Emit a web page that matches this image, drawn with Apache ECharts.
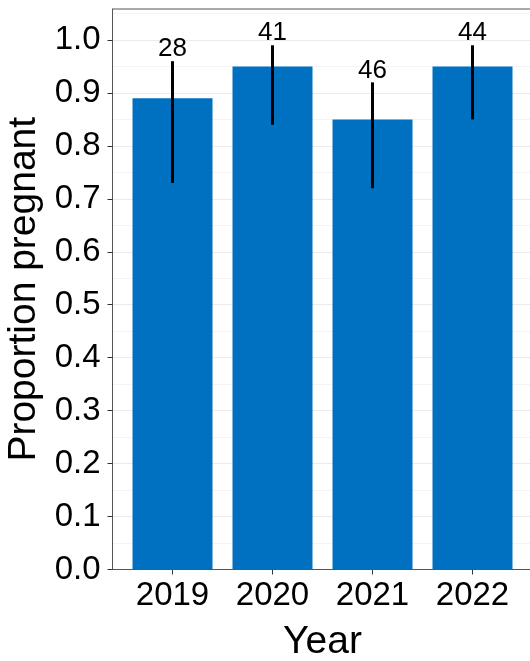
<!DOCTYPE html>
<html>
<head>
<meta charset="utf-8">
<script src="https://cdn.jsdelivr.net/npm/echarts@6/dist/echarts.min.js"></script>
<style>
html,body{margin:0;padding:0;background:#fff;}
#chart{width:530px;height:661px;}
</style>
</head>
<body>
<div id="chart"></div>
<script>
var years = ['2019', '2020', '2021', '2022'];
var proportions = [0.89, 0.95, 0.85, 0.95];
var lowerCI = [0.73, 0.84, 0.72, 0.85];
var upperCI = [0.96, 0.99, 0.92, 0.99];
var sampleSizes = [28, 41, 46, 44];
var yTicks = [0, 0.1, 0.2, 0.3, 0.4, 0.5, 0.6, 0.7, 0.8, 0.9, 1.0];
var xPositions = years.map(function (y, i) { return i + 1; });

var FONT = 'Liberation Sans, Arial, sans-serif';

var barData = xPositions.map(function (x, i) { return [x, proportions[i]]; });
var errData = xPositions.map(function (x, i) { return [x, lowerCI[i], upperCI[i], sampleSizes[i]]; });

var chart = echarts.init(document.getElementById('chart'), null, {renderer: 'canvas'});
chart.setOption({
  animation: false,
  backgroundColor: '#ffffff',
  grid: {
    left: 112.5, top: 9, width: 420, height: 560.5,
    show: true, borderColor: '#555', borderWidth: 1, backgroundColor: '#fff',
    containLabel: false,
    outerBoundsMode: 'none'
  },
  xAxis: {
    type: 'value', min: 0.4, max: 4.6,
    name: 'Year', nameLocation: 'middle', nameGap: 53,
    nameTextStyle: {fontSize: 39, color: '#000', fontFamily: FONT},
    axisLine: {show: true, onZero: false, lineStyle: {color: '#555', width: 1}},
    axisTick: {show: true, length: 5, customValues: xPositions, lineStyle: {color: '#333', width: 1}},
    axisLabel: {
      customValues: xPositions, margin: 10, fontSize: 33, color: '#000', fontFamily: FONT,
      formatter: function (v) { return years[Math.round(v) - 1] || ''; }
    },
    splitLine: {show: false}
  },
  yAxis: {
    type: 'value', min: 0, max: 1.0585, interval: 0.1,
    name: 'Proportion pregnant', nameLocation: 'middle', nameGap: 66,
    nameTextStyle: {fontSize: 39, color: '#000', fontFamily: FONT},
    axisLine: {show: true, lineStyle: {color: '#555', width: 1}},
    axisTick: {show: true, length: 5, customValues: yTicks, lineStyle: {color: '#333', width: 1}},
    axisLabel: {
      customValues: yTicks, margin: 12, fontSize: 33, color: '#000', fontFamily: FONT,
      formatter: function (v) { return v.toFixed(1); }
    },
    splitLine: {show: true, lineStyle: {color: '#ebebeb', width: 1}},
    minorTick: {show: false, splitNumber: 2},
    minorSplitLine: {show: true, lineStyle: {color: '#f4f4f4', width: 1}}
  },
  series: [
    {
      type: 'bar',
      data: barData,
      barWidth: 80,
      itemStyle: {color: '#0070C0'},
      z: 2
    },
    {
      type: 'custom',
      data: errData,
      encode: {x: 0, y: [1, 2]},
      z: 3,
      renderItem: function (params, api) {
        var x = api.value(0);
        var p1 = api.coord([x, api.value(1)]);
        var p2 = api.coord([x, api.value(2)]);
        return {
          type: 'group',
          children: [
            {
              type: 'line',
              shape: {x1: p1[0], y1: p1[1], x2: p2[0], y2: p2[1]},
              style: {stroke: '#000', lineWidth: 3}
            },
            {
              type: 'text',
              x: p2[0], y: p2[1] + 1,
              style: {
                text: String(api.value(3)),
                fontSize: 26, fontFamily: FONT, fill: '#000',
                align: 'center', verticalAlign: 'bottom'
              }
            }
          ]
        };
      }
    }
  ]
});
</script>
</body>
</html>
